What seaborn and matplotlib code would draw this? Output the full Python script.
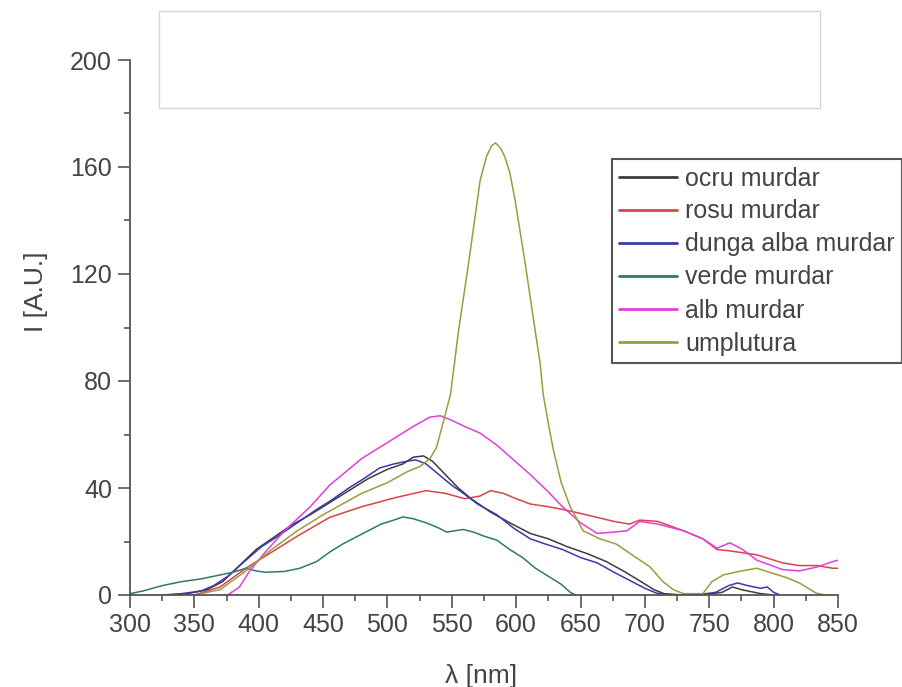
import matplotlib
matplotlib.use("Agg")
import matplotlib.pyplot as plt
from matplotlib.patches import Rectangle
from matplotlib.lines import Line2D
from matplotlib.ticker import MultipleLocator
import numpy as np
import pandas as pd
import seaborn as sns

# Emission spectra, intensity in arbitrary units vs wavelength (nm)
labels = ["ocru murdar", "rosu murdar", "dunga alba murdar",
          "verde murdar", "alb murdar", "umplutura"]
colors = ["#3c3c3c", "#d9434a", "#3a3aa8", "#2f7a68", "#e040d8", "#9c9c3c"]

wl_ocru = [330, 345, 360, 372, 385, 398, 410, 425, 440, 455, 470, 485, 500, 512,
           520, 528, 535, 545, 555, 565, 580, 595, 611, 625, 640, 655, 670, 685,
           697, 707, 715, 730, 745, 760, 768, 775, 790, 800]
i_ocru = [0, 0.5, 2, 5, 11, 17, 21, 26, 30, 34.5, 39, 43.5, 47, 49,
          51.5, 52, 50, 45, 40, 36, 31, 27, 23, 21, 18, 15.5, 12.5, 8.5,
          5, 2, 0.5, 0, 0, 1, 3, 2, 0.5, 0]

wl_rosu = [350, 370, 390, 410, 430, 455, 480, 507, 530, 545, 560, 572, 580, 590,
           600, 611, 625, 636, 650, 663, 676, 688, 696, 710, 730, 745, 756, 766,
           787, 807, 820, 834, 846, 850]
i_rosu = [0, 3, 10, 16, 22, 29, 33, 36.5, 39, 38, 36, 37, 39, 38,
          36, 34, 33, 32, 30.5, 29, 27.5, 26.5, 28, 27.5, 24, 21, 17, 16.5,
          15, 12, 11, 11, 10, 10]

wl_dunga = [325, 340, 355, 365, 376, 390, 402, 415, 430, 445, 455, 470, 480, 494,
            505, 515, 522, 530, 540, 550, 559, 570, 585, 598, 611, 623, 636, 650,
            663, 676, 688, 700, 709, 720, 740, 755, 765, 772, 780, 790, 795, 800, 805]
i_dunga = [0, 0.5, 1.5, 3.5, 7, 13, 18, 22, 27, 32, 35, 40, 43, 47.5,
           49, 50, 50.5, 49, 45, 41, 38, 34, 30, 25, 21, 19, 17, 14,
           12, 8.5, 5.5, 2.5, 0.7, 0, 0, 1, 3.5, 4.5, 3.5, 2.5, 3, 1, 0]

wl_verde = [300, 310, 325, 340, 355, 370, 380, 390, 398, 405, 420, 432, 445, 455,
            465, 475, 485, 495, 505, 512, 520, 530, 540, 546, 552, 559, 567, 575,
            585, 595, 605, 615, 625, 635, 642, 646]
i_verde = [0.5, 1.5, 3.5, 5, 6, 7.5, 8.5, 10, 9, 8.5, 8.8, 10, 12.5, 16,
           19, 21.5, 24, 26.5, 28, 29.2, 28.5, 27, 25, 23.5, 24, 24.5, 23.5, 22,
           20.5, 17, 14, 10, 7, 4, 1, 0]

wl_alb = [370, 376, 385, 393, 405, 420, 440, 455, 480, 500, 520, 533, 541, 549,
          560, 572, 585, 598, 611, 624, 636, 650, 663, 675, 686, 696, 710, 730,
          745, 756, 766, 776, 787, 807, 820, 834, 846, 850]
i_alb = [0, 0, 3, 9, 16, 24, 33, 41, 51, 57, 63, 66.5, 67, 65.5,
         63, 60.5, 56, 50.5, 45, 39, 33, 27, 23, 23.5, 24, 27.5, 26.5, 24,
         21, 17.5, 19.5, 17, 13, 9.5, 9, 10.5, 12.5, 13]

wl_umpl = [350, 370, 390, 410, 430, 450, 465, 480, 500, 515, 525, 533, 538, 543,
           549, 555, 559, 563, 566.5, 572, 577, 581, 584, 588, 591, 595, 599, 603,
           607, 611, 615, 618.5, 621, 625, 629, 635, 642, 652, 665, 678, 690, 704,
           714, 722, 730, 745, 752, 761, 775, 787, 800, 810, 820, 833, 840]
i_umpl = [0, 2, 9, 17, 24, 30, 34, 38, 42, 46, 48, 51, 55, 64,
          75, 98, 111, 124, 136, 155, 164, 168, 169, 167, 164, 158, 148, 136,
          124, 111, 98, 87, 75, 64, 54, 42, 33, 24, 21, 19, 15, 10.5,
          5, 2, 0.5, 0.5, 5, 7.5, 9, 10, 8, 6.5, 4.5, 0.7, 0]

series = [(wl_ocru, i_ocru), (wl_rosu, i_rosu), (wl_dunga, i_dunga),
          (wl_verde, i_verde), (wl_alb, i_alb), (wl_umpl, i_umpl)]

frames = [pd.DataFrame({"wl": w, "I": v, "sample": lab})
          for lab, (w, v) in zip(labels, series)]
df = pd.concat(frames, ignore_index=True)

sns.set_style("ticks")
plt.rcParams["font.family"] = ["Liberation Sans", "DejaVu Sans"]
text_col = "#444444"

fig = plt.figure(figsize=(9.03, 6.87), dpi=100)
ax = fig.add_axes([130 / 903, 92 / 687, 708 / 903, 535 / 687])

sns.lineplot(data=df, x="wl", y="I", hue="sample", hue_order=labels,
             palette=colors, estimator=None, linewidth=1.1, legend=False, ax=ax)

ax.set_xlim(300, 850)
ax.set_ylim(0, 200)
ax.xaxis.set_major_locator(MultipleLocator(50))
ax.xaxis.set_minor_locator(MultipleLocator(25))
ax.yaxis.set_major_locator(MultipleLocator(40))
ax.yaxis.set_minor_locator(MultipleLocator(20))
sns.despine(ax=ax)
for s in ("left", "bottom"):
    ax.spines[s].set_color("#555555")
    ax.spines[s].set_linewidth(1.3)
ax.tick_params(which="major", direction="out", length=9, width=1.2,
               color="#555555", labelsize=18, labelcolor=text_col, pad=4)
ax.tick_params(which="minor", direction="out", length=4, width=1.2,
               color="#555555")

ax.set_xlabel("λ [nm]", fontsize=19, color=text_col, va="top")
ax.set_ylabel("I [A.U.]", fontsize=19, color=text_col, va="center")
ax.xaxis.set_label_coords((481 - 130) / 708, (595 - 664) / 535)
ax.yaxis.set_label_coords((36 - 130) / 708, (595 - 292) / 535)

# Empty title frame above the plot
fig.patches.append(Rectangle((159 / 903, 1 - 108 / 687), 661 / 903, 97 / 687,
                             transform=fig.transFigure, fill=False,
                             edgecolor="#d6d6d6", linewidth=1.0))

handles = [Line2D([], [], color=c, linewidth=2.0) for c in colors]
leg = fig.legend(handles, labels, loc="upper left",
                 bbox_to_anchor=(612 / 903, 1 - 159 / 687),
                 bbox_transform=fig.transFigure, fontsize=18,
                 frameon=True, fancybox=False, framealpha=1,
                 edgecolor="#555555", borderpad=0.3, labelspacing=0.36,
                 handlelength=2.3, handletextpad=0.32, borderaxespad=0)
leg.get_frame().set_linewidth(1.5)
for t in leg.get_texts():
    t.set_color(text_col)

fig.savefig("out.png", dpi=100)
